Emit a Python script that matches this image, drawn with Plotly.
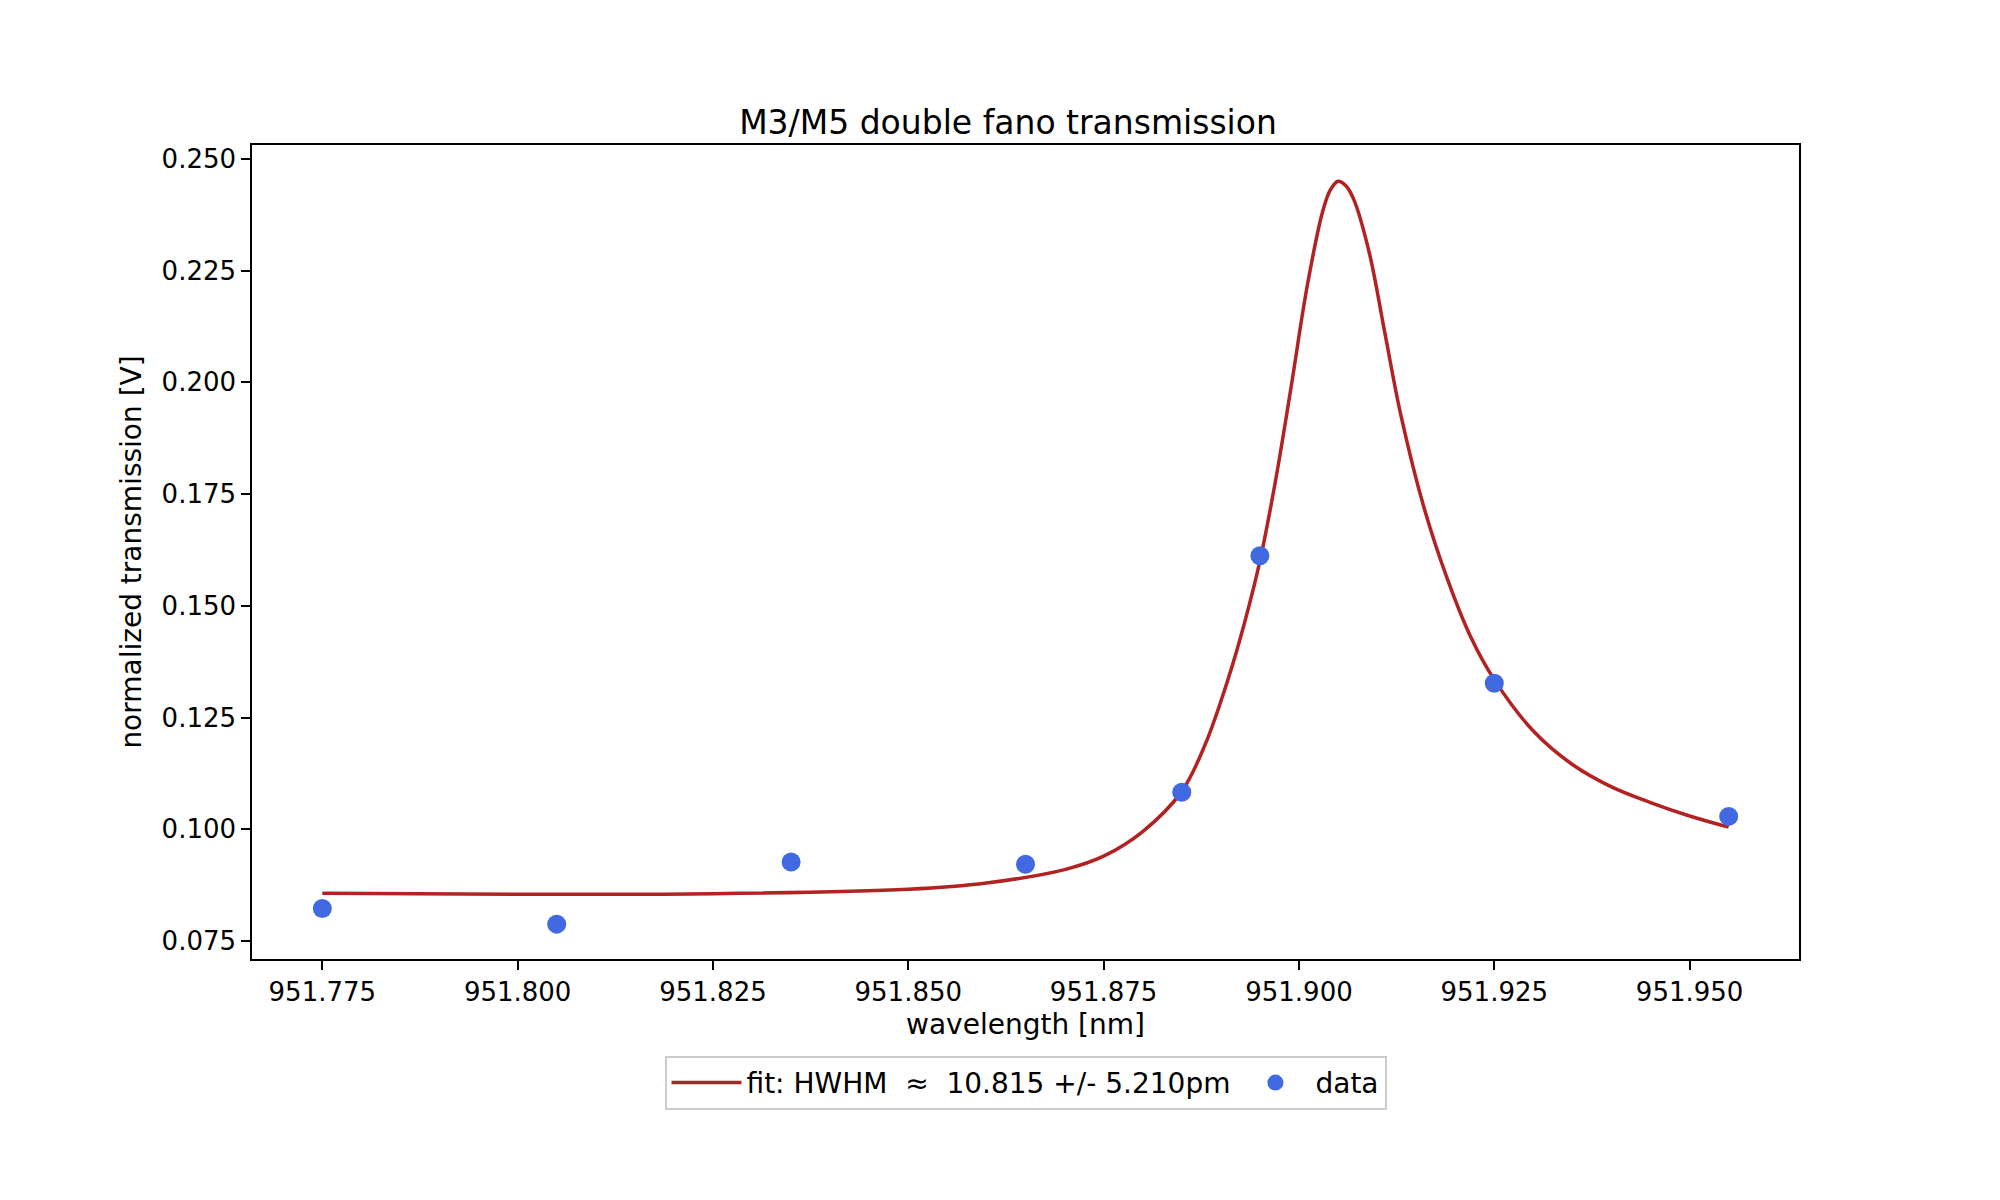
import plotly.graph_objects as go

# measured data
data_x = [951.775, 951.805, 951.835, 951.865, 951.885, 951.895, 951.925, 951.955]
data_y = [0.0823, 0.0788, 0.0927, 0.0922, 0.1083, 0.1612, 0.1327, 0.1029]

# fit curve
fit_x = [951.775, 951.800, 951.825, 951.850, 951.860, 951.870, 951.875, 951.880,
         951.885, 951.888, 951.891, 951.893, 951.895, 951.897, 951.899, 951.901,
         951.903, 951.904, 951.905, 951.906, 951.907, 951.909, 951.911, 951.913,
         951.916, 951.919, 951.922, 951.925, 951.930, 951.935, 951.940, 951.945,
         951.950, 951.955]
fit_y = [0.0857, 0.0855, 0.0856, 0.0866, 0.0880, 0.0910, 0.0940, 0.0995,
         0.1085, 0.1190, 0.1340, 0.1460, 0.1600, 0.1780, 0.1990, 0.2210,
         0.2380, 0.2430, 0.2450, 0.2440, 0.2410, 0.2290, 0.2110, 0.1930,
         0.1720, 0.1560, 0.1430, 0.1335, 0.1220, 0.1145, 0.1095, 0.1060,
         0.1030, 0.1005]

xticks = [951.775, 951.800, 951.825, 951.850, 951.875, 951.900, 951.925, 951.950]
yticks = [0.075, 0.100, 0.125, 0.150, 0.175, 0.200, 0.225, 0.250]

fig = go.Figure()
fig.add_trace(go.Scatter(x=fit_x, y=fit_y, mode='lines', line=dict(color='#b22222', width=3.5, shape='spline', smoothing=1.0),
                         name='fit: HWHM  \u2248  10.815 +/- 5.210pm'))
fig.add_trace(go.Scatter(x=data_x, y=data_y, mode='markers', marker=dict(color='royalblue', size=19),
                         name='data'))

axis_style = dict(showline=True, mirror=True, linecolor='black', linewidth=1.5, ticks='outside',
                  ticklen=9, tickwidth=1.5, tickcolor='black', showgrid=False, zeroline=False,
                  tickfont=dict(size=26, color='black'))
fig.update_xaxes(range=[951.766, 951.964], tickvals=xticks, tickformat='.3f',
                 title=dict(text='wavelength [nm]', font=dict(size=28, color='black'), standoff=8), **axis_style)
fig.update_yaxes(range=[0.0710, 0.2531], tickvals=yticks, tickformat='.3f',
                 title=dict(text='normalized transmission [V]', font=dict(size=28, color='black'), standoff=12), **axis_style)

fig.update_layout(
    width=2000, height=1200,
    plot_bgcolor='white', paper_bgcolor='white',
    font=dict(family='DejaVu Sans', color='black'),
    margin=dict(l=244, r=209, t=137, b=249),
    title=dict(text='M3/M5 double fano transmission', x=0.5, xanchor='center', y=0.905, yanchor='middle',
               font=dict(size=33, color='black')),
    legend=dict(orientation='h', x=0.5, xanchor='center', y=-0.119, yanchor='top',
                bordercolor='#cccccc', borderwidth=2, bgcolor='white', font=dict(size=28),
                itemwidth=70),
)
fig.write_html("out.html")
